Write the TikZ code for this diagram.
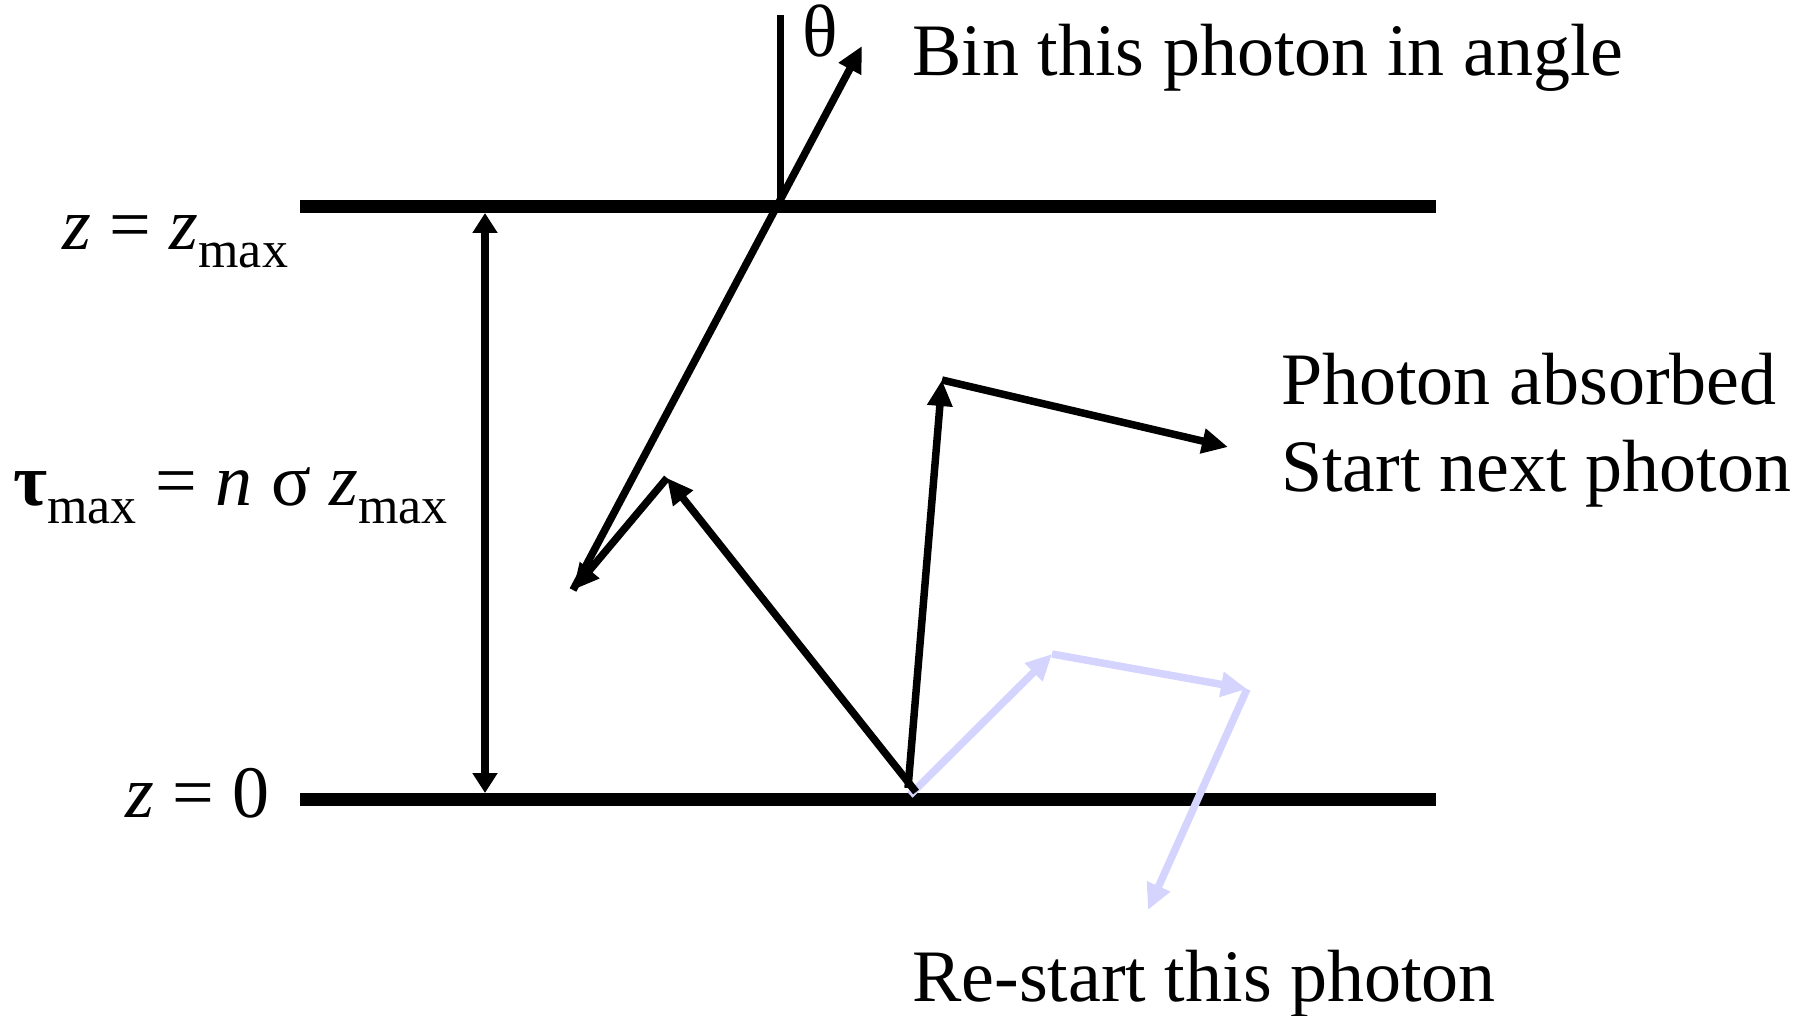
\documentclass[tikz,border=0pt]{standalone}
\usepackage{fontspec}
\setmainfont{Liberation Serif}
\usetikzlibrary{arrows.meta}
\definecolor{lav}{RGB}{212,212,255}
\newcommand\lowsub[1]{\raisebox{-18pt}{\fontsize{52}{52}\selectfont #1}}
\begin{document}
\begin{tikzpicture}[x=1pt,y=-1pt,
  bound/.style={line width=13pt},
  ray/.style={line width=7.5pt,-{Triangle[length=26pt,width=24pt]}},
  plainray/.style={line width=7pt},
  blueray/.style={ray,draw=lav,color=lav},
  lbl/.style={inner sep=0pt,anchor=base west,font=\fontsize{74}{87}\selectfont}]
\useasboundingbox (0,0) rectangle (1798,1016);
% coordinates
\coordinate (TL) at (300,207);
\coordinate (TR) at (1436,207);
\coordinate (BL) at (300,799);
\coordinate (BR) at (1436,799);
\coordinate (DA) at (485,213);
\coordinate (DB) at (485,793);
\coordinate (N0) at (780,207);
\coordinate (N1) at (780,15);
\coordinate (P0a) at (916,792);
\coordinate (P0b) at (908,788);
\coordinate (P1) at (667,478);
\coordinate (P2) at (573,590);
\coordinate (P3) at (862,46);
\coordinate (P4) at (942,380);
\coordinate (P5) at (1228,447);
\coordinate (Q0) at (910,795);
\coordinate (Q1) at (1052,654);
\coordinate (Q2) at (1247,689);
\coordinate (Q3) at (1148,910);
% boundaries
\draw[bound] (TL) -- (TR);
\draw[bound] (BL) -- (BR);
\draw[line width=8pt,{Triangle[length=20pt,width=24pt]}-{Triangle[length=20pt,width=24pt]}] (DA) -- (DB);
% normal
\draw[plainray] (N0) -- (N1);
% blue restart path
\draw[blueray] (Q0) -- (Q1);
\draw[blueray] (Q1) -- (Q2);
\draw[blueray] (Q2) -- (Q3);
% photon path
\draw[ray] (P0a) -- (P1);
\draw[ray] (P1) -- (P2);
\draw[ray] (P2) -- (P3);
\draw[ray] (P0b) -- (P4);
\draw[ray] (P4) -- (P5);
% labels
\node[lbl] (th) at (802,57) {θ};
\node[lbl] (bin) at (912,76) {Bin this photon in angle};
\node[lbl] (abs1) at (1281,404) {Photon absorbed};
\node[lbl] (abs2) at (1281,491) {Start next photon};
\node[lbl] (re) at (912,1001) {Re-start this photon};
\node[lbl] (zmax) at (62,250) {\textit{z} = \textit{z}\lowsub{max}};
\node[lbl] (tau) at (13,505) {\textbf{τ}\lowsub{max} = \textit{n} σ \textit{z}\lowsub{max}};
\node[lbl] (z0) at (125,817) {\textit{z} = 0};
\end{tikzpicture}
\end{document}
